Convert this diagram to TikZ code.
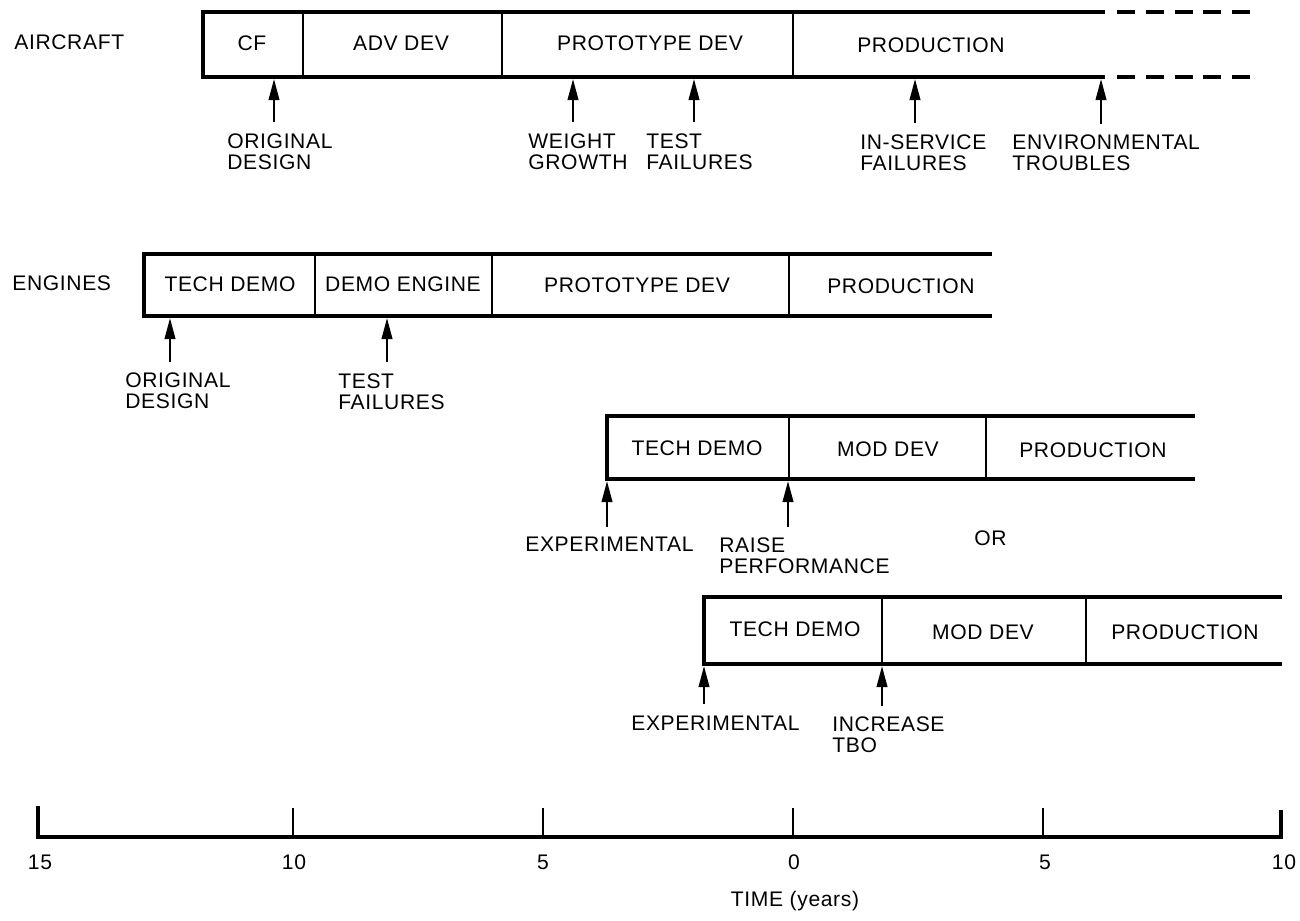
\documentclass[tikz,border=0pt]{standalone}
\usepackage{fontspec}
\setmainfont{Liberation Sans}[LetterSpace=3]
\usetikzlibrary{arrows.meta}
\begin{document}
\begin{tikzpicture}[x=0.02cm,y=-0.02cm,
  bar/.style={line width=1.9pt},
  openbar/.style={line width=1.9pt, dash pattern=on 10.2pt off 6.2pt},
  div/.style={line width=1.3pt},
  lbl/.style={font=\fontsize{12}{12.2}\selectfont, inner sep=0pt},
  note/.style={lbl, align=left, anchor=north west},
  up/.style={line width=1.3pt, -{Triangle[length=12pt,width=6pt]}},
  tickmark/.style={line width=1.6pt}]
\useasboundingbox (0,0) rectangle (1300,920);

% ---------------- AIRCRAFT ----------------
\node[lbl, anchor=west] (aircraft) at (14,42) {AIRCRAFT};
\draw[bar] (1105,12) -- (203,12) -- (203,77) -- (1105,77);
\draw[openbar] (1117,12) -- (1252,12);
\draw[openbar] (1117,77) -- (1252,77);
\draw[div] (303,12) -- (303,77);
\draw[div] (502,12) -- (502,77);
\draw[div] (793,12) -- (793,77);
\node[lbl] (acf) at (252,43) {CF};
\node[lbl] (aadv) at (401,43) {ADV DEV};
\node[lbl] (aproto) at (650,43) {PROTOTYPE DEV};
\node[lbl] (aprod) at (931,45) {PRODUCTION};

\coordinate (ah1) at (274,79);  \coordinate (at1) at (274,122);
\coordinate (ah2) at (573,79);  \coordinate (at2) at (573,122);
\coordinate (ah3) at (694,79);  \coordinate (at3) at (694,122);
\coordinate (ah4) at (915,79);  \coordinate (at4) at (915,123);
\coordinate (ah5) at (1101,79); \coordinate (at5) at (1101,124);
\foreach \i in {1,...,5} {\draw[up] (at\i) -- (ah\i);}
\node[note] (aorig) at (227,133) {ORIGINAL\\DESIGN};
\node[note] (aweight) at (528,133) {WEIGHT\\GROWTH};
\node[note] (atest) at (646,133) {TEST\\FAILURES};
\node[note] (aserv) at (860,134) {IN-SERVICE\\FAILURES};
\node[note] (aenv) at (1012,134) {ENVIRONMENTAL\\TROUBLES};

% ---------------- ENGINES ----------------
\node[lbl, anchor=west] (engines) at (12,283) {ENGINES};
\draw[bar] (992,254) -- (144,254) -- (144,316) -- (992,316);
\draw[div] (315,254) -- (315,316);
\draw[div] (492,254) -- (492,316);
\draw[div] (789,254) -- (789,316);
\node[lbl] (etech) at (230,284) {TECH DEMO};
\node[lbl] (edemo) at (403,284) {DEMO ENGINE};
\node[lbl] (eproto) at (637,285) {PROTOTYPE DEV};
\node[lbl] (eprod) at (901,286) {PRODUCTION};
\coordinate (eh1) at (170,318); \coordinate (et1) at (170,362);
\coordinate (eh2) at (387,318); \coordinate (et2) at (387,362);
\draw[up] (et1) -- (eh1);
\draw[up] (et2) -- (eh2);
\node[note] (eorig) at (125,372) {ORIGINAL\\DESIGN};
\node[note] (etest) at (338,373) {TEST\\FAILURES};

% ---------------- ROW 3 ----------------
\draw[bar] (1195,416) -- (607,416) -- (607,479) -- (1195,479);
\draw[div] (789,416) -- (789,479);
\draw[div] (986,416) -- (986,479);
\node[lbl] (rtech) at (697,448) {TECH DEMO};
\node[lbl] (rmod) at (888,449) {MOD DEV};
\node[lbl] (rprod) at (1093,450) {PRODUCTION};
\coordinate (rh1) at (607,481); \coordinate (rt1) at (607,527);
\coordinate (rh2) at (788,481); \coordinate (rt2) at (788,527);
\draw[up] (rt1) -- (rh1);
\draw[up] (rt2) -- (rh2);
\node[note] (rexp) at (525,537) {EXPERIMENTAL};
\node[note] (rraise) at (719,537) {RAISE\\PERFORMANCE};
\node[note] (or) at (974,530) {OR};

% ---------------- ROW 4 ----------------
\draw[bar] (1282,597) -- (704,597) -- (704,664) -- (1282,664);
\draw[div] (882,597) -- (882,664);
\draw[div] (1086,597) -- (1086,664);
\node[lbl] (stech) at (795,629) {TECH DEMO};
\node[lbl] (smod) at (983,632) {MOD DEV};
\node[lbl] (sprod) at (1185,632) {PRODUCTION};
\coordinate (sh1) at (704,666); \coordinate (st1) at (704,704);
\coordinate (sh2) at (882,666); \coordinate (st2) at (882,706);
\draw[up] (st1) -- (sh1);
\draw[up] (st2) -- (sh2);
\node[note] (sexp) at (631,716) {EXPERIMENTAL};
\node[note] (sinc) at (832,716) {INCREASE\\TBO};

% ---------------- AXIS ----------------
\draw[bar] (38,806) -- (38,837) -- (1281,837) -- (1281,810);
\foreach \x in {293,543,793,1043} {\draw[tickmark] (\x,808) -- (\x,837);}
\node[lbl] (x15) at (40,862) {15};
\node[lbl] (x10a) at (294,862) {10};
\node[lbl] (x5a) at (543,862) {5};
\node[lbl] (x0) at (794,862) {0};
\node[lbl] (x5b) at (1045,862) {5};
\node[lbl] (x10b) at (1284,862) {10};
\node[lbl] (time) at (795,901) {TIME (years)};
\end{tikzpicture}
\end{document}
